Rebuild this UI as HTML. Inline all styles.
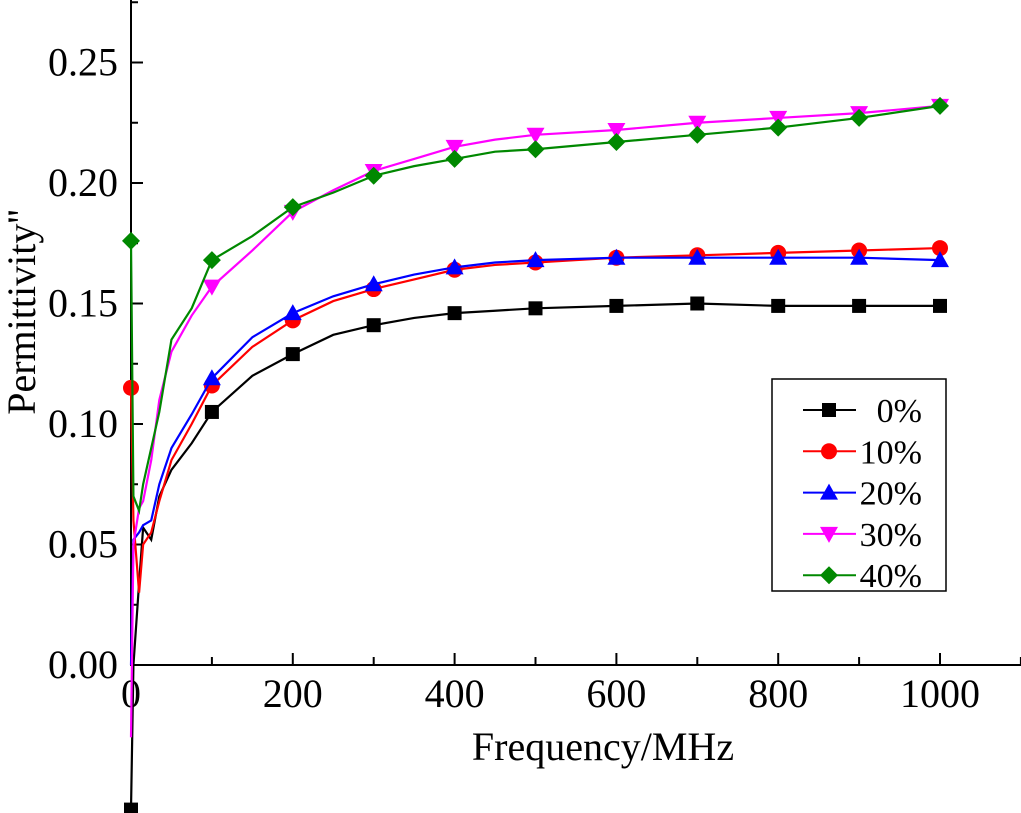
<!DOCTYPE html>
<html><head><meta charset="utf-8"><style>
body{margin:0;background:#fff}
svg{display:block;font-family:"Liberation Serif",serif}
</style></head><body>
<svg id="c" width="1021" height="813" viewBox="0 0 1021 813">
<g id="axes"></g><g id="plot"></g><g id="legend"></g>
</svg>
<script>
const freqs=[0,3,10,15,25,35,50,75,100,150,200,250,300,350,400,450,500,600,700,800,900,1000];
const s0=[-0.06,0.0,0.034,0.057,0.052,0.07,0.081,0.092,0.105,0.12,0.129,0.137,0.141,0.144,0.146,0.147,0.148,0.149,0.150,0.149,0.149,0.149];
const s10=[0.115,0.06,0.03,0.05,0.055,0.068,0.085,0.1,0.116,0.132,0.143,0.151,0.156,0.160,0.164,0.166,0.167,0.169,0.170,0.171,0.172,0.173];
const s20=[0.0,0.052,0.055,0.058,0.06,0.075,0.09,0.104,0.119,0.136,0.146,0.153,0.158,0.162,0.165,0.167,0.168,0.169,0.169,0.169,0.169,0.168];
const s30=[-0.03,0.05,0.065,0.068,0.085,0.11,0.13,0.145,0.157,0.172,0.188,0.197,0.205,0.210,0.215,0.218,0.220,0.222,0.225,0.227,0.229,0.232];
const s40=[0.176,0.07,0.064,0.075,0.09,0.105,0.135,0.148,0.168,0.178,0.190,0.196,0.203,0.207,0.210,0.213,0.214,0.217,0.220,0.223,0.227,0.232];
const seriesNames=["0%","10%","20%","30%","40%"];
const colors=["#000","#f00","#00f","#f0f","#080"];
const shapes=["square","circle","up","down","diamond"];
const xTicks=[0,200,400,600,800,1000];
const yTicks=[0,0.05,0.10,0.15,0.20,0.25];
const all=[s0,s10,s20,s30,s40];
const startMarker=[true,true,false,false,true];
const NS="http://www.w3.org/2000/svg";
const X=v=>131+v*0.809, Y=v=>665-v*2410;
function mk(t,a,p){const e=document.createElementNS(NS,t);for(const k in a)e.setAttribute(k,a[k]);p.appendChild(e);return e;}
const ax=document.getElementById('axes'),pl=document.getElementById('plot'),lg=document.getElementById('legend');
let e=mk('line',{x1:131,y1:0,x2:131,y2:665,stroke:'#000','stroke-width':2},ax);

e=mk('line',{x1:130,y1:665,x2:1021,y2:665,stroke:'#000','stroke-width':2},ax);

for(let v=0;v<=0.275;v+=0.025){const y=Y(v);const maj=Math.round(v*1000)%50===0;
 e=mk('line',{x1:131,y1:y,x2:131+(maj?12:7),y2:y,stroke:'#000','stroke-width':2},ax);
 }
for(let f=100;f<=1100;f+=100){const x=X(f);const maj=f%200===0;
 e=mk('line',{x1:x,y1:665,x2:x,y2:665-(maj?12:8),stroke:'#000','stroke-width':2},ax);
 }
yTicks.forEach(v=>{e=mk('text',{x:118,y:Y(v)+13,'text-anchor':'end','font-size':40},ax);e.textContent=v.toFixed(2);
 });
xTicks.forEach(v=>{e=mk('text',{x:X(v),y:707,'text-anchor':'middle','font-size':40},ax);e.textContent=v;
 });
e=mk('text',{x:603,y:760,'text-anchor':'middle','font-size':40},ax);e.textContent='Frequency/MHz';

e=mk('text',{x:0,y:0,'text-anchor':'middle','font-size':40,transform:'translate(35,312) rotate(-90)'},ax);e.textContent="Permittivity''";

function marker(shape,x,y,c,p){let m;
 if(shape==='square')m=mk('rect',{x:x-7,y:y-7,width:14,height:14,fill:c},p);
 else if(shape==='circle')m=mk('circle',{cx:x,cy:y,r:8,fill:c},p);
 else if(shape==='up')m=mk('polygon',{points:`${x},${y-9} ${x-9},${y+7} ${x+9},${y+7}`,fill:c},p);
 else if(shape==='down')m=mk('polygon',{points:`${x},${y+9} ${x-9},${y-7} ${x+9},${y-7}`,fill:c},p);
 else m=mk('polygon',{points:`${x},${y-9} ${x+9},${y} ${x},${y+9} ${x-9},${y}`,fill:c},p);
 return m;}
all.forEach((s,i)=>{
 const pts=freqs.map((f,j)=>X(f)+','+Y(s[j])).join(' ');
 e=mk('polyline',{points:pts,fill:'none',stroke:colors[i],'stroke-width':2.2},pl);
 
 freqs.forEach((f,j)=>{if(f%100===0&&(f>0||startMarker[i])){const m=marker(shapes[i],X(f),Y(s[j]),colors[i],pl);
  }});
});
e=mk('rect',{x:772,y:379,width:174,height:212,fill:'#fff',stroke:'#000','stroke-width':1.5},lg);

seriesNames.forEach((n,i)=>{const y=410+i*41.3;
 e=mk('line',{x1:803,y1:y,x2:856,y2:y,stroke:colors[i],'stroke-width':2},lg);
 
 const m=marker(shapes[i],829,y,colors[i],lg);
 e=mk('text',{x:922,y:y+12,'text-anchor':'end','font-size':34},lg);e.textContent=n;
 });
</script>
</body></html>
